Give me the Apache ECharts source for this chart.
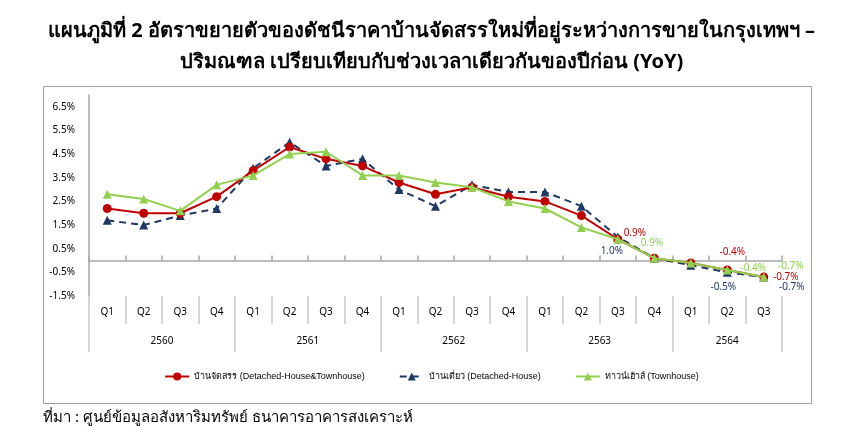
<!DOCTYPE html>
<html>
<head>
<meta charset="utf-8">
<script src="https://cdn.jsdelivr.net/npm/echarts@6/dist/echarts.min.js"></script>
<style>
  html, body { margin: 0; padding: 0; background: #fff; }
  #chart { width: 863px; height: 437px; }
</style>
</head>
<body>
<div id="chart"></div>
<script>
// ข้อมูล YoY (%) รายไตรมาส 2560Q1 - 2564Q3
const quarters = ['Q1','Q2','Q3','Q4','Q1','Q2','Q3','Q4','Q1','Q2','Q3','Q4','Q1','Q2','Q3','Q4','Q1','Q2','Q3'];
const years = ['2560', '2561', '2562', '2563', '2564'];
const quartersPerYear = [4, 4, 4, 4, 3];

const allHousing = [2.2, 2.0, 2.0, 2.7, 3.8, 4.8, 4.3, 4.0, 3.3, 2.8, 3.1, 2.7, 2.5, 1.9, 0.9, 0.1, -0.1, -0.4, -0.7];
const detached   = [1.7, 1.5, 1.9, 2.2, 3.9, 5.0, 4.0, 4.3, 3.0, 2.3, 3.2, 2.9, 2.9, 2.3, 1.0, 0.1, -0.2, -0.5, -0.7];
const townhouse  = [2.8, 2.6, 2.1, 3.2, 3.6, 4.5, 4.6, 3.6, 3.6, 3.3, 3.1, 2.5, 2.2, 1.4, 0.9, 0.1, -0.1, -0.4, -0.7];

const seriesNames = [
  'บ้านจัดสรร (Detached-House&Townhouse)',
  'บ้านเดี่ยว (Detached-House)',
  'ทาวน์เฮ้าส์ (Townhouse)',
];

const COLORS = { red: '#C00000', navy: '#1F3864', green: '#92D050', axis: '#A6A6A6', sep: '#C8C8C8' };
const FONT = 'Tahoma, "Noto Sans", "DejaVu Sans", sans-serif';
const NARROW = '"Liberation Sans", Arial, sans-serif';

// แกนปี: แบ่งครึ่งไตรมาส (boundaryGap false) เพื่อวางป้ายปีกึ่งกลางกลุ่ม
const yearSlots = [];
const yearTicks = {};
const yearLabelAt = {};
let pos = 0;
years.forEach((y, i) => {
  yearTicks[pos] = true;
  yearLabelAt[pos + quartersPerYear[i]] = y;
  pos += quartersPerYear[i] * 2;
});
yearTicks[pos] = true;
for (let k = 0; k <= pos; k++) yearSlots.push(yearLabelAt[k] || '');

// ป้ายตัวเลขเฉพาะบางจุด: index -> offset
function withLabels(values, marks, color) {
  return values.map((v, i) => {
    if (!marks[i]) return v;
    return {
      value: v,
      label: {
        show: true, position: 'inside', offset: marks[i], color: color,
        fontSize: 10, fontFamily: FONT,
        formatter: p => p.value.toFixed(1) + '%',
      },
    };
  });
}

const chart = echarts.init(document.getElementById('chart'));

const option = {
  animation: false,
  backgroundColor: '#fff',
  title: [
    {
      text: 'แผนภูมิที่ 2 อัตราขยายตัวของดัชนีราคาบ้านจัดสรรใหม่ที่อยู่ระหว่างการขายในกรุงเทพฯ –\nปริมณฑล เปรียบเทียบกับช่วงเวลาเดียวกันของปีก่อน (YoY)',
      left: 'center', top: 11,
      textStyle: { fontSize: 20, fontWeight: 'bold', color: '#000', fontFamily: FONT, lineHeight: 31, align: 'center' },
    },
    {
      text: 'ที่มา : ศูนย์ข้อมูลอสังหาริมทรัพย์ ธนาคารอาคารสงเคราะห์',
      left: 38, top: 405,
      textStyle: { fontSize: 15, fontWeight: 'normal', color: '#000', fontFamily: FONT },
    },
  ],
  graphic: [
    {
      type: 'rect', silent: true, z: -1,
      shape: { x: 43.5, y: 86.5, width: 768, height: 317 },
      style: { fill: 'none', stroke: '#A0A0A0', lineWidth: 1 },
    },
  ],
  legend: {
    top: 367, left: 'center',
    itemWidth: 24, itemHeight: 10, itemGap: 34,
    textStyle: { fontSize: 9, color: '#000', fontFamily: NARROW },
    data: seriesNames,
  },
  grid: { left: 89, right: 81, top: 95, height: 201 },
  xAxis: [
    {
      type: 'category', data: quarters, position: 'bottom',
      axisLine: { onZero: true, lineStyle: { color: COLORS.axis, width: 1.5 } },
      axisTick: { show: true, inside: true, length: 5, interval: 0, lineStyle: { color: COLORS.axis, width: 1.5 } },
      axisLabel: { show: false },
      splitLine: { show: false },
    },
    {
      type: 'category', data: quarters, position: 'bottom', offset: 0,
      axisLine: { show: false, onZero: false },
      axisTick: { show: true, length: 28, interval: 0, lineStyle: { color: COLORS.sep, width: 1.5 } },
      axisLabel: { interval: 0, margin: 11, fontSize: 10, color: '#000', fontFamily: FONT },
      splitLine: { show: false },
    },
    {
      type: 'category', data: yearSlots, position: 'bottom', offset: 0, boundaryGap: false,
      axisLine: { show: false, onZero: false },
      axisTick: { show: true, length: 56, interval: (i) => !!yearTicks[i], lineStyle: { color: COLORS.sep, width: 1.5 } },
      axisLabel: { interval: 0, margin: 40, fontSize: 10, color: '#000', fontFamily: FONT },
      splitLine: { show: false },
    },
  ],
  yAxis: {
    type: 'value', min: -1.5, max: 7, interval: 1,
    axisLine: { show: true, lineStyle: { color: COLORS.axis, width: 1.5 } },
    axisTick: { show: false },
    splitLine: { show: false },
    axisLabel: {
      margin: 14, fontSize: 10, color: '#000', fontFamily: FONT,
      formatter: v => (Math.abs(Math.round(v * 10)) % 10 === 5 ? v.toFixed(1) + '%' : ''),
    },
  },
  series: [
    {
      name: seriesNames[0], type: 'line', xAxisIndex: 0, z: 3,
      data: withLabels(allHousing, { 14: [17, -6], 17: [5, -18], 18: [22, 0] }, COLORS.red),
      symbol: 'circle', symbolSize: 9,
      lineStyle: { color: COLORS.red, width: 2 },
      itemStyle: { color: COLORS.red },
    },
    {
      name: seriesNames[1], type: 'line', xAxisIndex: 0, z: 2,
      data: withLabels(detached, { 14: [-6, 14], 17: [-4, 15], 18: [28, 10] }, COLORS.navy),
      symbol: 'triangle', symbolSize: 9,
      lineStyle: { color: COLORS.navy, width: 2, type: [7, 5] },
      itemStyle: { color: COLORS.navy },
    },
    {
      name: seriesNames[2], type: 'line', xAxisIndex: 0, z: 4,
      data: withLabels(townhouse, { 14: [34, 4], 17: [26, -2], 18: [27, -11] }, COLORS.green),
      symbol: 'triangle', symbolSize: 9,
      lineStyle: { color: COLORS.green, width: 2 },
      itemStyle: { color: COLORS.green },
    },
  ],
};

chart.setOption(option);
</script>
</body>
</html>
